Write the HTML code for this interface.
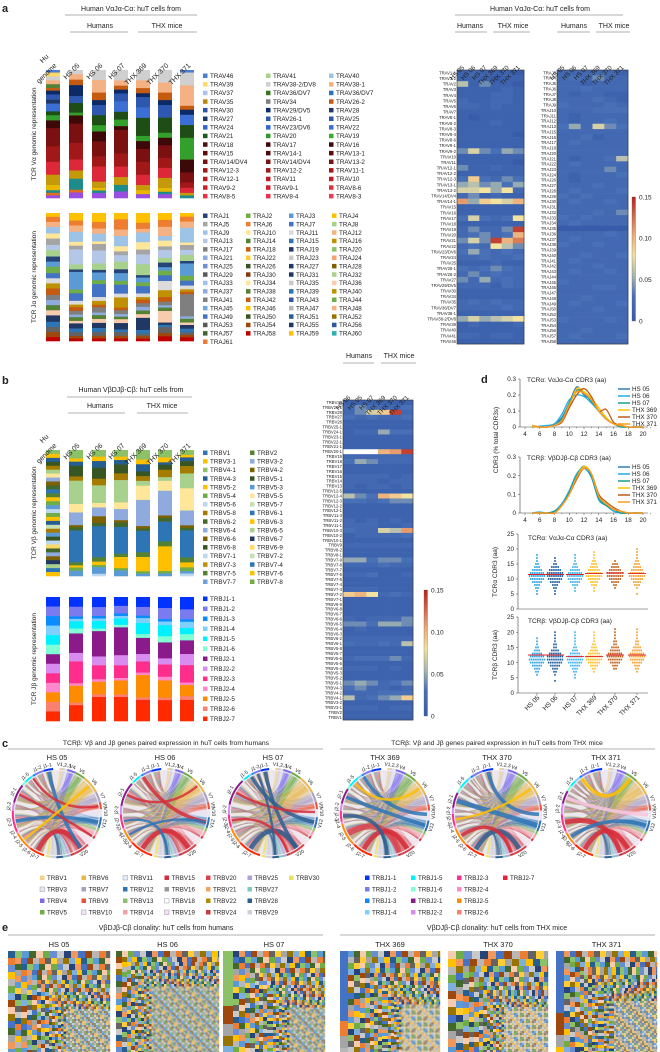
<!DOCTYPE html>
<html><head><meta charset="utf-8"><style>
body{margin:0;background:#fff;}
svg{display:block;font-family:"Liberation Sans",sans-serif;}
</style></head><body>
<svg id="fig" width="660" height="1052" viewBox="0 0 660 1052">
<g fill="#222" stroke="none">
<text x="2" y="12" font-size="11" font-weight="bold">a</text>
<text x="131" y="11" font-size="7" text-anchor="middle">Human VαJα-Cα: huT cells from</text>
<line x1="65" y1="15" x2="197" y2="15" stroke="#999" stroke-width="0.7"/>
<text x="100" y="28" font-size="7" text-anchor="middle">Humans</text>
<line x1="70" y1="32" x2="128" y2="32" stroke="#999" stroke-width="0.7"/>
<text x="167" y="28" font-size="7" text-anchor="middle">THX mice</text>
<line x1="138" y1="32" x2="197" y2="32" stroke="#999" stroke-width="0.7"/>
<text x="36" y="134" font-size="6.5" text-anchor="middle" transform="rotate(-90 36 134)">TCR Vα genomic representation</text>
<text x="36" y="277" font-size="6.5" text-anchor="middle" transform="rotate(-90 36 277)">TCR Jα genomic representation</text>
<text x="540" y="11" font-size="7" text-anchor="middle">Human VαJα-Cα: huT cells from</text>
<line x1="455" y1="15" x2="623" y2="15" stroke="#999" stroke-width="0.7"/>
<text x="470" y="28" font-size="7" text-anchor="middle">Humans</text>
<line x1="455" y1="32" x2="487" y2="32" stroke="#999" stroke-width="0.7"/>
<text x="513" y="28" font-size="7" text-anchor="middle">THX mice</text>
<line x1="493" y1="32" x2="530" y2="32" stroke="#999" stroke-width="0.7"/>
<text x="574" y="28" font-size="7" text-anchor="middle">Humans</text>
<line x1="557" y1="32" x2="590" y2="32" stroke="#999" stroke-width="0.7"/>
<text x="614" y="28" font-size="7" text-anchor="middle">THX mice</text>
<line x1="596" y1="32" x2="630" y2="32" stroke="#999" stroke-width="0.7"/>
</g>
<g fill="#222">
<text x="2" y="384" font-size="11" font-weight="bold">b</text>
<text x="131" y="392" font-size="7" text-anchor="middle">Human VβDJβ-Cβ: huT cells from</text>
<line x1="67" y1="397" x2="192" y2="397" stroke="#999" stroke-width="0.7"/>
<text x="100" y="408" font-size="7" text-anchor="middle">Humans</text>
<line x1="68" y1="413" x2="125" y2="413" stroke="#999" stroke-width="0.7"/>
<text x="162" y="408" font-size="7" text-anchor="middle">THX mice</text>
<line x1="137" y1="413" x2="188" y2="413" stroke="#999" stroke-width="0.7"/>
<text x="36" y="513" font-size="6.5" text-anchor="middle" transform="rotate(-90 36 513)">TCR Vβ genomic representation</text>
<text x="36" y="659" font-size="6.5" text-anchor="middle" transform="rotate(-90 36 659)">TCR Jβ genomic representation</text>
<text x="359" y="358" font-size="7" text-anchor="middle">Humans</text>
<line x1="343" y1="363" x2="374" y2="363" stroke="#999" stroke-width="0.7"/>
<text x="399" y="358" font-size="7" text-anchor="middle">THX mice</text>
<line x1="381" y1="363" x2="416" y2="363" stroke="#999" stroke-width="0.7"/>
</g>
<g fill="#222">
<text x="481" y="383" font-size="11" font-weight="bold">d</text>
<text x="498" y="440" font-size="6.5" text-anchor="middle" transform="rotate(-90 498 440)">CDR3 (% total CDR3s)</text>
<text x="497" y="572" font-size="6.5" text-anchor="middle" transform="rotate(-90 497 572)">TCRα CDR3 (aa)</text>
<text x="497" y="655" font-size="6.5" text-anchor="middle" transform="rotate(-90 497 655)">TCRβ CDR3 (aa)</text>
</g>
<g fill="#222">
<text x="2" y="747" font-size="11" font-weight="bold">c</text>
<text x="166" y="745" font-size="6.8" text-anchor="middle">TCRβ: Vβ and Jβ genes paired expression in huT cells from humans</text>
<line x1="8" y1="749" x2="323" y2="749" stroke="#999" stroke-width="0.7"/>
<text x="497" y="745" font-size="6.8" text-anchor="middle">TCRβ: Vβ and Jβ genes paired expression in huT cells from THX mice</text>
<line x1="340" y1="749" x2="655" y2="749" stroke="#999" stroke-width="0.7"/>
</g>
<g fill="#222">
<text x="2" y="931" font-size="11" font-weight="bold">e</text>
<text x="166" y="930" font-size="7" text-anchor="middle">VβDJβ-Cβ clonality: huT cells from humans</text>
<line x1="8" y1="935" x2="323" y2="935" stroke="#999" stroke-width="0.7"/>
<text x="497" y="930" font-size="7" text-anchor="middle">VβDJβ-Cβ clonality: huT cells from THX mice</text>
<line x1="340" y1="935" x2="655" y2="935" stroke="#999" stroke-width="0.7"/>
</g>
</svg>
<script>
const NS='http://www.w3.org/2000/svg';
const svg=document.getElementById('fig');
function mk(tag,attrs,parent){const e=document.createElementNS(NS,tag);for(const k in attrs)e.setAttribute(k,attrs[k]);(parent||svg).appendChild(e);return e;}
function label(x,y,s,size,opts,name,parent){
  const e=mk('text',Object.assign({x:x,y:y,'font-size':size,fill:'#222'},opts||{}),parent);
  e.textContent=s;
  
  
  return e;
}

/* ---------------- DATA ---------------- */
const samples=['HS 05','HS 06','HS 07','THX 369','THX 370','THX 371'];
const barSamples=['Hu genome','HS 05','HS 06','HS 07','THX 369','THX 370','THX 371'];

const travGroupColors=['#4a7fd6','#ffd966','#d0d0d0','#f4b183','#548235','#c55a11','#0b2a66','#2e58b0','#1f3864','#3c6fd6','#1e4d16','#33a02c','#3d0808','#7a1010','#a01818','#dc2838','#c49a0a','#e8b800','#1f8c8c','#e07020','#9b4fe0'];
const travHu=[2,3,3,3,3,2,3,4,3,6,3,4,6,14,12,10,8,4,2,2,2];
const travHS05=[0,0,3,4,0,4,8,5,0,0,7,2,6,14,12,8,6,0,8,2,4];
const travHS06=[0,0,8,10,0,6,4,8,0,0,8,5,8,12,8,12,5,2,2,0,4];
const travHS07=[0,0,8,4,0,3,3,6,0,8,6,5,3,18,10,8,6,0,5,0,5];
const travTHX369=[0,0,8,6,0,4,3,8,0,8,14,4,6,10,10,8,4,3,0,0,3];
const travTHX370=[0,0,10,8,0,6,4,10,0,0,12,4,6,10,8,8,8,3,2,0,3];
const travTHX371=[2,0,10,16,0,3,4,0,0,8,10,17,10,8,4,4,2,0,2,0,0];

const trajGroupColors=['#ffc000','#ed7d31','#f4b183','#9dc3e6','#ffe699','#a5a5a5','#b4c7e7','#a9d18e','#264478','#5b9bd5','#70ad47','#4472c4','#dbdbdb','#bf9000','#c55a11','#7f7f7f','#8faadc','#548235','#f8cbad','#203864','#2e75b6','#636363','#9e480e','#c00000'];
const trajHu=[3,4,4,5,4,5,4,5,4,4,5,4,4,4,5,4,4,4,4,5,4,4,4,3];
const trajHS05=[6,4,5,8,3,3,12,4,2,14,3,6,3,2,3,3,2,3,2,4,3,3,2,2];
const trajHS06=[7,5,4,6,2,5,10,5,2,6,3,10,3,3,2,4,2,3,3,4,3,3,2,2];
const trajHS07=[5,8,5,8,4,3,5,6,3,6,3,7,3,8,2,3,2,2,3,5,2,3,2,2];
const trajTHX369=[8,5,3,8,6,4,8,9,2,4,3,6,3,2,3,3,3,3,3,10,3,2,2,2];
const trajTHX370=[6,6,8,4,5,3,7,4,4,3,4,5,8,6,4,3,2,3,10,2,2,5,3,4];
const trajTHX371=[3,4,5,12,2,4,4,5,2,10,4,4,3,2,2,18,2,3,2,3,3,2,2,3];

const trbvGroupColors=['#8cc168','#ffc000','#255e91','#375623','#a67c00','#a9d18e','#ffe699','#8faadc','#7f6000','#43682b','#2e75b6','#548235','#ffc000','#70ad47','#5b9bd5','#bdd7ee',
 '#70ad47','#ffc000','#255e91','#c5e0b4','#a67c00','#5b9bd5','#375623','#bdd7ee','#ffd966','#43682b','#8faadc','#7f6000','#1f3864','#a9d18e','#2e75b6','#ffc000'];
const trbvHu=[3,3,3,3,3,3,3,3,3,3,3,3,3,3,3,3,3,3,3,3,3,3,3,3,3,3,3,3,3,3,3,3];
const trbvHS05=[8,3,4,10,4,22,8,12,2,3,30,3,2,3,5,0,0,0,0,0,0,0,0,0,0,0,0,0,0,0,0,0];
const trbvHS06=[6,4,6,10,6,16,4,8,6,3,28,4,3,2,6,2,0,0,0,0,0,0,0,0,0,0,0,0,0,0,0,0];
const trbvHS07=[6,3,4,8,6,20,6,10,2,4,24,3,10,2,5,0,0,0,0,0,0,0,0,0,0,0,0,0,0,0,0,0];
const trbvTHX369=[8,4,6,4,4,4,12,22,2,2,18,4,12,2,2,0,0,0,0,0,0,0,0,0,0,0,0,0,0,0,0,0];
const trbvTHX370=[6,4,2,4,6,3,8,20,2,3,16,4,20,2,2,0,0,0,0,0,0,0,0,0,0,0,0,0,0,0,0,0];
const trbvTHX371=[4,2,3,4,6,12,18,12,2,2,22,4,4,3,2,2,0,0,0,0,0,0,0,0,0,0,0,0,0,0,0,0];

const trbjNames=['TRBJ1-1','TRBJ1-2','TRBJ1-3','TRBJ1-4','TRBJ1-5','TRBJ1-6','TRBJ2-1','TRBJ2-2','TRBJ2-3','TRBJ2-4','TRBJ2-5','TRBJ2-6','TRBJ2-7'];
const trbjColors=['#0033ff','#7b7bf0','#0a8cff','#7fd0ff','#00f0ff','#7fffd4','#8b1a8b','#d98cf0','#ff2d8c','#ff88cc','#ff8c00','#fa8072','#ff2a00'];
const trbjHu=[8,8,8,8,8,8,8,8,8,8,8,8,8];
const trbjHS05=[8,8,2,2,6,4,16,7,18,2,14,2,13];
const trbjHS06=[8,7,2,2,6,2,20,7,11,2,10,2,19];
const trbjHS07=[7,6,2,2,5,2,22,8,10,2,11,2,19];
const trbjTHX369=[8,7,2,4,9,3,13,6,9,2,18,2,17];
const trbjTHX370=[9,9,2,3,9,5,13,5,10,3,14,2,17];
const trbjTHX371=[10,8,2,5,5,5,11,9,14,2,9,3,17];

/* heatmap data (values x 0.01) */
const travRows=['TRAV1-1','TRAV1-2','TRAV2','TRAV3','TRAV4','TRAV5','TRAV6','TRAV7','TRAV8-1','TRAV8-2','TRAV8-3','TRAV8-4','TRAV8-6','TRAV9-1','TRAV9-2','TRAV10','TRAV11','TRAV12-1','TRAV12-2','TRAV12-3','TRAV13-1','TRAV13-2','TRAV14/DV4','TRAV14-1','TRAV15','TRAV16','TRAV17','TRAV18','TRAV19','TRAV20','TRAV21','TRAV22','TRAV23/DV6','TRAV24','TRAV25','TRAV26-1','TRAV26-2','TRAV27','TRAV29/DV5','TRAV30','TRAV34','TRAV35','TRAV36/DV7','TRAV38-1','TRAV38-2/DV8','TRAV39','TRAV40','TRAV41','TRAV46'];
const travHeat=[[1,2,1,1,1,0],[1,1,1,0,1,1],[6,1,4,1,1,0],[1,1,1,1,2,1],[1,1,1,2,2,1],[2,1,1,2,2,1],[2,2,1,2,1,1],[1,1,1,1,1,1],[1,0,1,1,1,1],[1,1,1,2,1,1],[1,1,1,1,1,1],[1,1,1,1,1,0],[1,1,1,1,1,1],[1,1,1,1,1,1],[4,7,4,3,5,4],[1,1,1,1,1,1],[1,1,1,1,1,0],[4,1,1,2,1,1],[1,1,1,1,1,1],[3,9,3,2,4,3],[5,6,4,5,3,5],[7,7,8,5,8,2],[2,4,1,2,1,1],[11,5,9,8,7,10],[1,1,1,1,1,1],[1,1,1,1,1,1],[3,7,3,2,3,8],[1,1,1,1,1,1],[2,4,2,2,4,14],[2,3,4,2,3,10],[4,7,4,14,10,12],[2,3,2,8,6,4],[3,5,3,2,3,2],[2,2,3,2,2,3],[1,1,1,2,1,1],[3,2,3,4,3,2],[2,4,2,3,2,2],[4,2,5,2,3,2],[2,2,2,1,3,2],[1,1,1,1,1,1],[1,1,1,1,1,1],[2,3,2,3,2,2],[2,2,2,2,3,2],[1,1,1,1,1,1],[5,7,5,6,7,8],[1,2,1,1,1,2],[1,1,1,1,1,1],[2,2,1,2,2,1],[1,1,1,1,1,1]];
const trajRows=['TRAJ3','TRAJ4','TRAJ5','TRAJ6','TRAJ7','TRAJ8','TRAJ9','TRAJ10','TRAJ11','TRAJ12','TRAJ13','TRAJ15','TRAJ16','TRAJ17','TRAJ18','TRAJ20','TRAJ21','TRAJ22','TRAJ23','TRAJ24','TRAJ26','TRAJ27','TRAJ28','TRAJ29','TRAJ30','TRAJ31','TRAJ32','TRAJ33','TRAJ34','TRAJ35','TRAJ36','TRAJ37','TRAJ38','TRAJ39','TRAJ40','TRAJ41','TRAJ42','TRAJ43','TRAJ44','TRAJ45','TRAJ46','TRAJ47','TRAJ48','TRAJ49','TRAJ50','TRAJ52','TRAJ53','TRAJ54','TRAJ56','TRAJ57','TRAJ58'];
const trajHeat=[[2,2,2,2,2,1],[2,3,2,4,2,2],[2,2,1,2,2,2],[2,2,3,2,2,2],[2,1,2,2,1,1],[2,2,2,3,2,1],[3,2,2,2,3,2],[2,2,2,3,3,3],[2,1,2,2,2,2],[2,1,2,2,3,2],[3,5,2,7,4,3],[2,2,2,2,2,2],[2,2,3,1,2,2],[2,3,2,2,2,2],[2,2,2,2,2,2],[2,2,2,2,2,2],[2,1,2,2,3,6],[2,3,2,2,2,2],[2,2,2,2,4,2],[2,1,2,2,2,3],[2,1,2,2,2,2],[2,2,2,3,2,2],[2,3,2,2,2,3],[3,2,3,2,2,2],[2,3,2,2,3,2],[2,2,2,2,2,2],[2,2,2,3,2,4],[3,2,3,2,2,2],[2,3,2,2,2,2],[0,0,0,0,0,0],[2,2,2,2,3,2],[2,3,2,2,2,2],[3,2,2,3,2,2],[2,2,2,2,2,2],[2,2,3,2,2,3],[2,3,2,2,2,2],[2,2,2,3,2,2],[2,3,2,2,3,2],[2,2,2,2,2,2],[3,2,2,2,2,2],[2,2,2,3,3,2],[2,2,2,2,2,2],[2,2,3,2,2,2],[2,3,2,2,2,3],[2,2,2,3,2,2],[2,2,2,2,2,2],[3,2,2,2,3,2],[2,2,2,2,2,2],[2,2,3,2,2,2],[2,3,2,2,2,3],[2,2,2,2,2,2]];
const trbvRows=['TRBV30','TRBV29-1','TRBV28','TRBV27','TRBV26','TRBV25-1','TRBV24-1','TRBV23-1','TRBV22-1','TRBV21-1','TRBV20-1','TRBV19','TRBV18','TRBV17','TRBV16','TRBV15','TRBV14','TRBV13','TRBV12-5','TRBV12-4','TRBV12-3','TRBV12-2','TRBV12-1','TRBV11-3','TRBV11-2','TRBV11-1','TRBV10-3','TRBV10-2','TRBV10-1','TRBV9','TRBV8-2','TRBV8-1','TRBV7-9','TRBV7-8','TRBV7-7','TRBV7-6','TRBV7-5','TRBV7-4','TRBV7-3','TRBV7-2','TRBV7-1','TRBV6-9','TRBV6-8','TRBV6-7','TRBV6-6','TRBV6-5','TRBV6-4','TRBV6-3','TRBV6-2','TRBV6-1','TRBV5-8','TRBV5-7','TRBV5-6','TRBV5-5','TRBV5-4','TRBV5-3','TRBV5-2','TRBV5-1','TRBV4-3','TRBV4-2','TRBV4-1','TRBV3-2','TRBV3-1','TRBV2','TRBV1'];
const trbvHeat=[[1,1,1,1,1,1],[2,4,3,2,2,3],[2,4,7,9,14,2],[3,2,3,2,2,3],[1,1,1,1,1,1],[1,1,1,1,1,1],[1,2,2,5,3,3],[1,1,1,1,1,1],[1,1,1,1,1,1],[1,1,1,1,1,1],[null,null,null,10,11,14],[2,2,2,2,2,2],[3,5,4,2,2,2],[1,1,1,1,1,1],[1,1,1,1,1,1],[2,2,2,2,1,2],[2,2,2,1,2,2],[2,1,2,2,1,2],[1,1,1,1,1,1],[6,4,3,10,9,8],[3,3,2,3,4,4],[1,1,1,1,1,1],[1,1,1,1,1,1],[1,1,1,1,1,1],[2,1,2,1,2,1],[2,2,2,1,1,2],[3,2,2,7,6,11],[1,2,2,2,2,3],[1,1,1,1,1,1],[2,2,2,2,2,2],[1,1,1,1,1,1],[1,1,1,1,1,1],[5,5,3,4,4,3],[2,2,2,3,2,2],[1,1,1,1,1,1],[2,2,3,1,1,2],[1,1,1,1,1,1],[1,1,1,1,1,1],[2,2,2,1,1,1],[9,10,8,2,3,2],[1,1,1,1,1,1],[1,1,1,1,1,1],[1,1,1,1,1,1],[1,1,1,1,1,1],[2,1,2,2,2,4],[4,4,3,5,5,4],[1,2,1,1,1,1],[1,1,1,1,1,1],[2,2,2,2,2,2],[3,2,2,3,2,6],[1,1,1,1,1,1],[1,1,1,1,1,1],[2,3,3,3,4,2],[1,1,1,1,1,1],[2,2,2,1,2,1],[1,1,1,1,1,1],[1,1,1,1,1,1],[4,5,4,2,3,4],[3,4,2,2,1,2],[2,2,2,3,3,3],[6,2,3,4,5,9],[1,1,1,1,1,1],[2,2,2,1,2,2],[1,1,1,1,1,1],[1,1,1,1,1,1]];

/* CDR3 curves: lengths 5..20 */
const cdrLengths=[5,6,7,8,9,10,11,12,13,14,15,16,17,18,19,20];
const alphaHS05=[0,0,0,0.02,0.06,0.15,0.25,0.2,0.17,0.1,0.05,0.02,0.01,0,0,0];
const alphaHS06=[0,0.005,0.01,0.02,0.08,0.17,0.2,0.19,0.15,0.1,0.05,0.02,0.01,0,0,0];
const alphaHS07=[0,0,0,0.01,0.05,0.15,0.23,0.21,0.16,0.1,0.05,0.02,0,0,0,0];
const alphaTHX369=[0,0,0,0.01,0.04,0.13,0.24,0.22,0.18,0.12,0.06,0.02,0.01,0,0,0];
const alphaTHX370=[0.01,0,0,0.01,0.03,0.12,0.2,0.24,0.19,0.1,0.11,0.03,0.01,0,0,0];
const alphaTHX371=[0.01,0,0,0.01,0.04,0.14,0.22,0.21,0.17,0.1,0.05,0.02,0.01,0,0,0];
const betaHS05=[0,0,0,0.01,0.05,0.11,0.2,0.25,0.2,0.08,0.04,0.02,0,0,0,0];
const betaHS06=[0,0.005,0,0.01,0.05,0.12,0.21,0.24,0.19,0.07,0.04,0.01,0,0,0,0];
const betaHS07=[0,0,0,0.01,0.04,0.11,0.2,0.25,0.2,0.08,0.04,0.02,0,0,0,0];
const betaTHX369=[0,0,0,0,0.04,0.1,0.19,0.25,0.21,0.09,0.05,0.02,0.01,0,0,0];
const betaTHX370=[0,0,0,0,0.04,0.1,0.18,0.24,0.21,0.1,0.06,0.03,0.01,0,0,0];
const betaTHX371=[0,0,0,0,0.04,0.1,0.19,0.24,0.21,0.09,0.05,0.02,0.01,0,0,0];
const curveColors=['#2f7fc1','#1eaee8','#1a9f8f','#ffc000','#c05a1a','#ff9a1a'];

/* dot plots: counts per CDR3 length */
const alphaLens=[5,6,7,8,9,10,11,12,13,14,15,16,17,18,19,20];
const alphaCountsHS05=[1,1,2,3,5,7,8,7,5,3,2,1,1,1,0,0];
const alphaCountsHS06=[1,1,2,3,5,7,8,8,6,4,2,1,1,0,0,0];
const alphaCountsHS07=[0,1,1,3,5,7,8,7,5,3,2,1,1,1,0,0];
const alphaCountsTHX369=[0,1,1,3,4,6,8,7,6,4,3,2,1,1,1,0];
const alphaCountsTHX370=[0,0,1,2,4,6,8,8,6,4,3,1,0,0,0,0];
const alphaCountsTHX371=[1,0,1,3,4,6,8,7,6,4,3,2,1,1,1,1];
const alphaMedians=[11.5,11.5,11.5,11.8,12,11.8];
const betaLens=[4,5,6,7,8,9,10,11,12,13,14,15,16,17,18,19,20,21];
const betaCountsHS05=[0,0,1,2,3,5,7,8,7,5,3,2,1,1,1,0,0,0];
const betaCountsHS06=[1,0,1,2,3,5,7,8,8,6,4,2,2,1,1,1,1,0];
const betaCountsHS07=[0,1,1,2,3,5,7,8,7,5,3,2,1,1,1,1,1,0];
const betaCountsTHX369=[0,0,0,1,2,4,6,8,8,6,4,3,2,1,1,1,1,0];
const betaCountsTHX370=[0,0,0,0,2,3,5,7,8,7,5,4,2,2,1,1,1,1];
const betaCountsTHX371=[0,0,0,1,2,3,5,7,8,7,5,4,2,2,1,1,1,1];
const betaMedians=[12.5,12.5,12,12,12.5,12.5];
const dotColors=['#2ea3e0','#1f5f9f','#3fb0ea','#ffc020','#c0601a','#f5a030'];

/* chord diagrams */
const vNames=['V1','V2','V3','V4','V5','V6','V7','V9','V10','V11','V12','V13','V14','V15','V18','V19','V20','V24','V25','V27','V28','V29','V30'];
const vColors=['#f5d08a','#cccccc','#e0e0f0','#7b68ee','#70ad47','#e8b84a','#a9a0c0','#e8503a','#f0e0f0','#dde6f5','#2e75b6','#8cc168','#f4a0a8','#d62d3a','#f4eaea','#f8e0f0','#d9434c','#c83c3c','#b0a0d8','#7fc8c0','#2f5f8f','#d0d0dc','#f0e060'];
const vWeightsHumans=[2,2,2,6,8,14,8,5,4,2,8,3,4,2,3,3,12,3,3,3,5,5,3];
const vWeightsTHX=[2,2,3,8,10,14,8,5,6,2,9,3,4,2,3,3,12,3,3,3,6,5,3];
const chordsHS05=[[12,16,4,'#d62d3a'],[0,16,3,'#2e75b6'],[8,10,3,'#2e75b6'],[6,13,2,'#d62d3a'],[3,7,2,'#d62d3a'],[10,5,2,'#ffc000']];
const chordsHS06=[[12,16,4,'#d62d3a'],[2,10,3,'#d62d3a'],[6,5,2,'#d62d3a'],[8,20,2,'#2e75b6'],[10,10,2,'#2e75b6']];
const chordsHS07=[[12,16,4,'#2f5f8f'],[0,16,3,'#2f5f8f'],[3,10,3,'#2f5f8f'],[6,8,2,'#d62d3a'],[8,17,2,'#d62d3a'],[1,20,2,'#2f5f8f']];
const chordsTHX369=[[10,17,5,'#d9434c'],[12,16,4,'#d62d3a'],[2,8,3,'#2e75b6'],[6,10,3,'#2e75b6'],[4,5,2,'#ffc000'],[8,20,3,'#2f5f8f']];
const chordsTHX370=[[12,16,4,'#2f5f8f'],[6,10,4,'#2e75b6'],[0,8,3,'#2e75b6'],[8,5,2,'#ffc000'],[10,17,3,'#d62d3a']];
const chordsTHX371=[[12,16,4,'#d62d3a'],[8,17,4,'#d62d3a'],[6,8,3,'#f8c8e0'],[2,4,3,'#ffc000'],[10,10,3,'#2e75b6']];

/* clonality tiers (cell size per nested layer) */
const clonePalette=['#4472c4','#ed7d31','#a5a5a5','#ffc000','#5b9bd5','#70ad47','#264478','#9e480e','#636363','#997300','#255e91','#43682b','#698ed0','#f1975a','#b7b7b7','#ffcd33','#7cafdd','#8cc168','#f8cbad','#c9c9c9'];
const tiersHS05=[7,6,6,5,5,4,4,4,3,3,3,3,2.5,2.5];
const tiersHS06=[6,5,4,4,3,3,3,2.5,2.5,2.5];
const tiersHS07=[6,6,5,5,4,4,4,3,3,3,3,3,2.5,2.5,2.5];
const tiersTHX369=[6,6,5,5,4,4,4,3,3,3,3,2.5,2.5,2.5];
const tiersTHX370=[8,7,6,5,5,4,4,3,3,3,3,2.5,2.5];
const tiersTHX371=[6,5,5,4,4,4,3,3,3,3,2.5,2.5,2.5,2.5];
const topClonesHS05=[];
const topClonesHS06=[];
const topClonesHS07=[[17,55],[7,18],[2,12]];
const topClonesTHX369=[[0,70],[1,15],[2,12]];
const topClonesTHX370=[];
const topClonesTHX371=[[0,62],[7,22],[2,12]];

/* ---------------- DRAW: stacked bars ---------------- */
const barX=[46,69,92,114,136,158,180];
function stacked(xs,top,bottom,colors,series,name){
  const g=mk('g',{});
  
  
  series.forEach((hs,bi)=>{
    const tot=hs.reduce((a,b)=>a+b,0);
    let y=top;
    hs.forEach((h,i)=>{
      if(h<=0)return;
      const hh=h/tot*(bottom-top);
      const r=mk('rect',{x:xs[bi],y:y.toFixed(2),width:14,height:(hh+0.3).toFixed(2),fill:colors[i]},g);
      
      
      y+=hh;
    });
  });
}
stacked(barX,70,198,travGroupColors,[travHu,travHS05,travHS06,travHS07,travTHX369,travTHX370,travTHX371],'trav-stacked-bars');
stacked(barX,213,341,trajGroupColors,[trajHu,trajHS05,trajHS06,trajHS07,trajTHX369,trajTHX370,trajTHX371],'traj-stacked-bars');
stacked(barX,450,576,trbvGroupColors,[trbvHu,trbvHS05,trbvHS06,trbvHS07,trbvTHX369,trbvTHX370,trbvTHX371],'trbv-stacked-bars');
stacked(barX,597,721,trbjColors,[trbjHu,trbjHS05,trbjHS06,trbjHS07,trbjTHX369,trbjTHX370,trbjTHX371],'trbj-stacked-bars');

function barLabels(yEnd,name){
  barSamples.forEach((s,i)=>{
    const cx=barX[i]+9;
    if(s==='Hu genome'){
      label(cx-6,yEnd-9,'Hu',7,{'text-anchor':'end',transform:`rotate(-45 ${cx-6} ${yEnd-9})`},name);
      label(cx+2,yEnd,'genome',7,{'text-anchor':'end',transform:`rotate(-45 ${cx+2} ${yEnd})`},name);
    } else label(cx+2,yEnd,s,7,{'text-anchor':'end',transform:`rotate(-45 ${cx+2} ${yEnd})`},name);
  });
}
barLabels(66,'bar-sample-label');
barLabels(446,'bar-sample-label');

/* legends */
function legend(x0,y0,dx,dy,cols,size){
  cols.forEach((col,ci)=>{
    col.forEach((it,ri)=>{
      const x=x0+ci*dx, y=y0+ri*dy;
      const r=mk('rect',{x:x,y:y-4.5,width:4.5,height:4.5,fill:it[1],stroke:it[2]||'none','stroke-width':0.5});
      
      
      label(x+7,y,it[0],size||6.3,{},'legend-entry');
    });
  });
}
legend(203,78,63,8.6,[
 [['TRAV46','#4a7fd6'],['TRAV39','#ffd966'],['TRAV37','#a9c4eb'],['TRAV35','#b8860b'],['TRAV30','#2f55a4'],['TRAV27','#1f3864'],['TRAV24','#3366cc'],['TRAV21','#1e5a1e'],['TRAV18','#4a0f0f'],['TRAV15','#5c0a0a'],['TRAV14/DV4','#7a1010'],['TRAV12-3','#a01818'],['TRAV12-1','#b81c24'],['TRAV9-2','#d0202c'],['TRAV8-5','#e8304a']],
 [['TRAV41','#a9d18e'],['TRAV38-2/DV8','#d0d0d0'],['TRAV36/DV7','#38761d'],['TRAV34','#7f7f7f'],['TRAV29/DV5','#0b2a66'],['TRAV26-1','#2e58b0'],['TRAV23/DV6','#2f68d6'],['TRAV20','#2e9a2e'],['TRAV17','#3d0808'],['TRAV14-1','#4d0909'],['TRAV14/DV4','#7a1010'],['TRAV12-2','#a01818'],['TRAV11','#b81c24'],['TRAV9-1','#d0202c'],['TRAV8-4','#e8304a']],
 [['TRAV40','#9dc3e6'],['TRAV38-1','#f4b183'],['TRAV36/DV7','#2e75b6'],['TRAV26-2','#c55a11'],['TRAV28','#203864'],['TRAV25','#2f55a4'],['TRAV22','#3c6fd6'],['TRAV19','#33b033'],['TRAV16','#3d0808'],['TRAV13-1','#5c0a0a'],['TRAV13-2','#7a1010'],['TRAV11-1','#a01818'],['TRAV10','#c01c28'],['TRAV8-6','#e03040'],['TRAV8-3','#f03a55']]
]);
const trajPal=['#264478','#70ad47','#5b9bd5','#ffc000','#a5a5a5','#ed7d31','#4472c4','#a9d18e','#9dc3e6','#ffe699','#dbdbdb','#f4b183','#b4c7e7','#548235','#2e75b6','#bf9000','#7f7f7f','#c55a11','#203864','#8cc168','#8faadc','#ffcd33','#c9c9c9','#f8a070','#6f8fd0','#375623','#1f3864','#7f6000','#595959','#843c0c','#1f3864','#a9d18e','#9dc3e6','#ffe699','#c9c9c9','#f8cbad','#8faadc','#548235','#2e75b6','#bf9000','#7f7f7f','#c55a11','#2f55a4','#70ad47','#6fa8dc','#ffc000','#b7b7b7','#f4b183','#4472c4','#375623','#255e91','#997300','#595959','#9e480e','#1f3864','#2f55a4','#43682b','#c00000','#ffc000','#2ab0b0','#ed7d31'];
const trajCols=[[],[],[],[]];
for(let j=1;j<=61;j++){trajCols[(j-1)%4].push(['TRAJ'+j,trajPal[j-1]]);}
legend(203,218,43,8.4,trajCols);
legend(203,455,47,8.6,[
 [['TRBV1','#2e75b6'],['TRBV3-1','#ffc000'],['TRBV4-1','#8cc168'],['TRBV4-3','#255e91'],['TRBV5-2','#ffc000'],['TRBV5-4','#70ad47'],['TRBV5-6','#bdd7ee'],['TRBV5-8','#a67c00'],['TRBV6-2','#43682b'],['TRBV6-4','#8faadc'],['TRBV6-6','#7f6000'],['TRBV6-8','#375623'],['TRBV7-1','#bdd7ee'],['TRBV7-3','#c09000'],['TRBV7-5','#548235'],['TRBV7-7','#6fa0dc']],
 [['TRBV2','#548235'],['TRBV3-2','#8faadc'],['TRBV4-2','#7f6000'],['TRBV5-1','#375623'],['TRBV5-3','#5b9bd5'],['TRBV5-5','#ffe699'],['TRBV5-7','#c5e0b4'],['TRBV6-1','#2e75b6'],['TRBV6-3','#ffc000'],['TRBV6-5','#a9d18e'],['TRBV6-7','#1f3864'],['TRBV6-9','#ffd966'],['TRBV7-2','#c5e0b4'],['TRBV7-4','#2e75b6'],['TRBV7-6','#ffc000'],['TRBV7-8','#70ad47']]
]);
legend(203,601,47,10,[trbjNames.map((n,i)=>[n,trbjColors[i]])]);

/* ---------------- heatmaps ---------------- */
const cmapStops=[[0,[56,92,170]],[0.03,[72,112,182]],[0.055,[170,184,176]],[0.08,[244,226,160]],[0.105,[237,169,119]],[0.15,[180,35,30]]];
function cmap(v){
  if(v===null)return '#ffffff';
  v=Math.max(0,Math.min(0.15,v));
  for(let i=0;i<cmapStops.length-1;i++){const a=cmapStops[i],b=cmapStops[i+1];
    if(v<=b[0]){const t=(v-a[0])/(b[0]-a[0]);const c=a[1].map((x,k)=>Math.round(x+(b[1][k]-x)*t));return `rgb(${c})`;}}
  return 'rgb(180,35,30)';
}
function heatmap(x,y,w,h,rows,vals,colLabels,name){
  const g=mk('g',{});
  
  
  const rh=h/rows.length, cw=w/6;
  vals.forEach((row,ri)=>row.forEach((v,ci)=>{
    const r=mk('rect',{x:(x+ci*cw).toFixed(2),y:(y+ri*rh).toFixed(2),width:(cw+0.3).toFixed(2),height:(rh+0.3).toFixed(2),fill:cmap(v===null?null:v/100)},g);
    
    
  }));
  const f=mk('rect',{x:x,y:y,width:w,height:h,fill:'none',stroke:'#333','stroke-width':0.6},g);
  
  
  const fs=Math.min(4.2,rh*0.85);
  rows.forEach((r,ri)=>label(x-1,y+ri*rh+rh*0.8,r,fs,{'text-anchor':'end'},'heatmap-row-label',g));
  colLabels.forEach((c,ci)=>{const cx=x+ci*cw+cw/2+2;label(cx,y-2,c,6.3,{'text-anchor':'end',transform:`rotate(-45 ${cx} ${y-2})`},'heatmap-column-label',g);});
}
heatmap(457,70,67,274,travRows,travHeat,samples,'trav-heatmap');
heatmap(557,70,71,274,trajRows,trajHeat,samples,'traj-heatmap');
heatmap(343,400,70,320,trbvRows,trbvHeat,['HS 06','HS 05','HS 07','THX 369','THX 370','THX 371'],'trbv-heatmap');

const cbTicks=[0,0.05,0.10,0.15];
const cbTickLabels=['0','0.05','0.10','0.15'];
function colorbar(x,y0,y1,name){
  const id='cbg'+Math.round(x);
  const defs=mk('defs',{});
  const lg=mk('linearGradient',{id:id,x1:0,y1:1,x2:0,y2:0},defs);
  cmapStops.forEach(s=>mk('stop',{offset:(s[0]/0.15*100)+'%','stop-color':`rgb(${s[1]})`},lg));
  const r=mk('rect',{x:x,y:y0,width:3.5,height:y1-y0,fill:`url(#${id})`,stroke:'#555','stroke-width':0.3});
  
  
  cbTicks.forEach((t,i)=>{const yy=y1-(t/0.15)*(y1-y0);
    label(x+7,yy+2.3,cbTickLabels[i],6.5,{},'colorbar-tick-label');});
}
colorbar(632,197,321,'trav-colorbar');
colorbar(424,590,716,'trbv-colorbar');

/* ---------------- CDR3 curves ---------------- */
function lineChart(y0,yTop,seriesArr,title,name){
  const xs=v=>525+(v-4)*7.375, ys=v=>y0-(v/0.3)*(y0-yTop);
  const g=mk('g',{});
  
  
  const ax=mk('path',{d:`M520 ${yTop} L520 ${y0} L648 ${y0}`,fill:'none',stroke:'#444','stroke-width':0.6},g);
  
  
  [0,0.1,0.2,0.3].forEach((t,i)=>{label(516,ys(t)+2.2,['0','0.1','0.2','0.3'][i],6.3,{'text-anchor':'end'},'y-tick-label',g);
    const tk=mk('line',{x1:518,x2:520,y1:ys(t),y2:ys(t),stroke:'#444','stroke-width':0.5},g);
    
    });
  for(let v=4;v<=21;v++){const tk=mk('line',{x1:xs(v),x2:xs(v),y1:y0,y2:y0+(v%2?1.2:2),stroke:'#444','stroke-width':0.5},g);
    
    
    if(v%2===0&&v<=20)label(xs(v),y0+9,String(v),6.3,{'text-anchor':'middle'},'x-tick-label',g);}
  seriesArr.forEach((ser,si)=>{
    const pts=cdrLengths.map((l,i)=>[xs(l),ys(ser[i])]);
    let d=`M${pts[0][0]} ${pts[0][1]}`;
    for(let i=0;i<pts.length-1;i++){const p0=pts[Math.max(0,i-1)],p1=pts[i],p2=pts[i+1],p3=pts[Math.min(pts.length-1,i+2)];
      d+=` C${(p1[0]+(p2[0]-p0[0])/6).toFixed(2)} ${(p1[1]+(p2[1]-p0[1])/6).toFixed(2)} ${(p2[0]-(p3[0]-p1[0])/6).toFixed(2)} ${(p2[1]-(p3[1]-p1[1])/6).toFixed(2)} ${p2[0].toFixed(2)} ${p2[1].toFixed(2)}`;}
    const p=mk('path',{d:d,fill:'none',stroke:curveColors[si],'stroke-width':1.3},g);
    
    
  });
  label(527,yTop+3,title,6.5,{},'chart-title',g);
  samples.forEach((s,i)=>{const yy=yTop+12+i*7;
    const l=mk('line',{x1:618,x2:630,y1:yy-2,y2:yy-2,stroke:curveColors[i],'stroke-width':1.5},g);
    
    
    label(632,yy,s,6.3,{},'legend-entry',g);});
}
lineChart(427,379,[alphaHS05,alphaHS06,alphaHS07,alphaTHX369,alphaTHX370,alphaTHX371],'TCRα: VαJα-Cα CDR3 (aa)','tcra-cdr3-length-chart');
lineChart(513,457,[betaHS05,betaHS06,betaHS07,betaTHX369,betaTHX370,betaTHX371],'TCRβ: VβDJβ-Cβ CDR3 (aa)','tcrb-cdr3-length-chart');

/* ---------------- dot plots ---------------- */
const catX=[537,555,575,594,615,637];
function dotPlot(y0,yTop,lens,counts,medians,title,name,showX){
  const ys=v=>y0-(v/25)*(y0-yTop);
  const g=mk('g',{});
  
  
  const ax=mk('path',{d:`M518 ${yTop} L518 ${y0} L648 ${y0}`,fill:'none',stroke:'#444','stroke-width':0.6},g);
  
  
  [0,5,10,15,20,25].forEach(t=>{label(514,ys(t)+2.2,String(t),6.3,{'text-anchor':'end'},'y-tick-label',g);
    const tk=mk('line',{x1:516,x2:518,y1:ys(t),y2:ys(t),stroke:'#444','stroke-width':0.5},g);
    
    });
  counts.forEach((cs,si)=>{
    cs.forEach((c,li)=>{
      for(let k=0;k<c;k++){
        const xx=catX[si]+(k-(c-1)/2)*2.1-0.8;
        const r=mk('rect',{x:xx.toFixed(2),y:(ys(lens[li])-0.9).toFixed(2),width:1.6,height:1.8,fill:dotColors[si]},g);
        
        
      }
    });
    const m=mk('line',{x1:catX[si]-9,x2:catX[si]+9,y1:ys(medians[si]),y2:ys(medians[si]),stroke:'#e0202a','stroke-width':0.9},g);
    
    
  });
  label(528,yTop+6,title,6.5,{},'chart-title',g);
  if(showX) samples.forEach((s,i)=>{const tk=mk('line',{x1:catX[i],x2:catX[i],y1:y0,y2:y0+2,stroke:'#444','stroke-width':0.5},g);
    
    
    label(catX[i]+3,y0+5,s,6.5,{'text-anchor':'end',transform:`rotate(-45 ${catX[i]+3} ${y0+5})`},'x-tick-label',g);});
}
dotPlot(609,534,alphaLens,[alphaCountsHS05,alphaCountsHS06,alphaCountsHS07,alphaCountsTHX369,alphaCountsTHX370,alphaCountsTHX371],alphaMedians,'TCRα: VαJα-Cα CDR3 (aa)','tcra-cdr3-dotplot',false);
dotPlot(693,617,betaLens,[betaCountsHS05,betaCountsHS06,betaCountsHS07,betaCountsTHX369,betaCountsTHX370,betaCountsTHX371],betaMedians,'TCRβ: VβDJβ-Cβ CDR3 (aa)','tcrb-cdr3-dotplot',true);

/* ---------------- chord diagrams ---------------- */
const circX=[57,165,273,385,497,606];
const circY=813, circR=43;
function pol(cx,cy,r,a){const t=a*Math.PI/180;return [cx+r*Math.sin(t),cy-r*Math.cos(t)];}
function arcPath(cx,cy,r,a0,a1){const p0=pol(cx,cy,r,a0),p1=pol(cx,cy,r,a1);return `M${p0[0].toFixed(2)} ${p0[1].toFixed(2)} A${r} ${r} 0 ${Math.abs(a1-a0)>180?1:0} ${a1>a0?1:0} ${p1[0].toFixed(2)} ${p1[1].toFixed(2)}`;}
const jLabelShort=['j1-1','j1-2','','','j1-5','','j2-1','j2-2','j2-3','j2-4','j2-5','j2-6','j2-7'];
const vLabelShort={1:'V1,2,3',3:'V4',4:'V5',5:'V6',6:'V7',7:'V9',8:'V10',10:'V12',16:'V20'};
function chord(ci,title,jW,vW,hi){
  const cx=circX[ci],cy=circY,r=circR;
  const g=mk('g',{});
  
  
  label(cx,760,title,7.5,{'text-anchor':'middle'},'chord-title',g);
  const bg=mk('circle',{cx:cx,cy:cy,r:r,fill:'#ece8f0'},g);
  
  
  const jT=jW.reduce((a,b)=>a+b,0), vT=vW.reduce((a,b)=>a+b,0);
  const jA=[];let a=-5;jW.forEach(w=>{const s=w/jT*158;jA.push([a-s,a]);a-=s;});
  const vA=[];a=3;vW.forEach(w=>{const s=w/vT*192;vA.push([a,a+s]);a+=s;});
  jW.forEach((jw,j)=>vW.forEach((vw,v)=>{
    const aj=(jA[j][0]+jA[j][1])/2+((v/vW.length)-0.5)*(jA[j][1]-jA[j][0])*0.8;
    const av=(vA[v][0]+vA[v][1])/2+((j/jW.length)-0.5)*(vA[v][1]-vA[v][0])*0.8;
    const p0=pol(cx,cy,r-1,aj),p1=pol(cx,cy,r-1,av);
    const w=jw*vw/(jT*vT)*240;
    const p=mk('path',{d:`M${p0[0].toFixed(1)} ${p0[1].toFixed(1)} Q${cx} ${cy} ${p1[0].toFixed(1)} ${p1[1].toFixed(1)}`,fill:'none',stroke:vColors[v],'stroke-opacity':0.4,'stroke-width':Math.max(0.25,w).toFixed(2)},g);
    
    
  }));
  hi.forEach(hc=>{
    const aj=(jA[hc[0]][0]+jA[hc[0]][1])/2, av=(vA[hc[1]][0]+vA[hc[1]][1])/2;
    const p0=pol(cx,cy,r-1,aj),p1=pol(cx,cy,r-1,av);
    const p=mk('path',{d:`M${p0[0].toFixed(1)} ${p0[1].toFixed(1)} Q${cx} ${cy} ${p1[0].toFixed(1)} ${p1[1].toFixed(1)}`,fill:'none',stroke:hc[3],'stroke-opacity':0.85,'stroke-width':hc[2]*1.2},g);
    
    
  });
  jA.forEach((s,j)=>{const p=mk('path',{d:arcPath(cx,cy,r+1.2,s[0],s[1]),fill:'none',stroke:trbjColors[j],'stroke-width':2},g);
    
    
    if(jLabelShort[j]){const m=(s[0]+s[1])/2,q=pol(cx,cy,r+5.5,m);const rot=Math.abs(m)<=90?m:m+180;
      label(q[0],q[1]+1.5,jLabelShort[j],5,{'text-anchor':'middle',transform:`rotate(${rot.toFixed(1)} ${q[0].toFixed(1)} ${q[1].toFixed(1)})`},'j-gene-label',g);}});
  vA.forEach((s,v)=>{const p=mk('path',{d:arcPath(cx,cy,r+1.2,s[0],s[1]),fill:'none',stroke:vColors[v],'stroke-width':2},g);
    
    
    if(vLabelShort[v]){const m=(s[0]+s[1])/2,q=pol(cx,cy,r+5.5,m);
      const rr=m<=90?m:(m<=270?m-180:m);
      label(q[0],q[1]+1.5,vLabelShort[v],5,{'text-anchor':'middle',transform:`rotate(${rr.toFixed(1)} ${q[0].toFixed(1)} ${q[1].toFixed(1)})`},'v-gene-label',g);}});
}
chord(0,'HS 05',trbjHS05,vWeightsHumans,chordsHS05);
chord(1,'HS 06',trbjHS06,vWeightsHumans,chordsHS06);
chord(2,'HS 07',trbjHS07,vWeightsHumans,chordsHS07);
chord(3,'THX 369',trbjTHX369,vWeightsTHX,chordsTHX369);
chord(4,'THX 370',trbjTHX370,vWeightsTHX,chordsTHX370);
chord(5,'THX 371',trbjTHX371,vWeightsTHX,chordsTHX371);

/* chord legends */
const cLegVH=[
 [['TRBV1','#f5d08a'],['TRBV3','#e8e8f4','#99a'],['TRBV4','#7b68ee'],['TRBV5','#70ad47']],
 [['TRBV6','#e8b84a'],['TRBV7','#a9a0c0'],['TRBV9','#e8503a'],['TRBV10','#f4e4f4','#99a']],
 [['TRBV11','#e4ecf8','#99a'],['TRBV12','#2e75b6'],['TRBV13','#8cc168'],['TRBV14','#f4a0a8']],
 [['TRBV15','#d62d3a'],['TRBV16','#999999'],['TRBV18','#ffffff','#99a'],['TRBV19','#f8e0f0','#99a']],
 [['TRBV20','#d9434c'],['TRBV21','#f4a460'],['TRBV22','#b08c00'],['TRBV24','#c83c3c']],
 [['TRBV25','#b0a0d8'],['TRBV27','#7fc8c0'],['TRBV28','#2f5f8f'],['TRBV29','#d0d0dc']],
 [['TRBV30','#f0e060']]];
legend(40,880,41.5,11.5,cLegVH,6.2);
legend(365,880,46,11.5,[
 [['TRBJ1-1','#0033ff'],['TRBJ1-2','#7b7bf0'],['TRBJ1-3','#0a8cff'],['TRBJ1-4','#7fd0ff']],
 [['TRBJ1-5','#00f0ff'],['TRBJ1-6','#7fffd4'],['TRBJ2-1','#8b1a8b'],['TRBJ2-2','#d98cf0']],
 [['TRBJ2-3','#ff2d8c'],['TRBJ2-4','#ff88cc'],['TRBJ2-5','#ff8c00'],['TRBJ2-6','#fa8072']],
 [['TRBJ2-7','#e8203a']]],6.2);

/* ---------------- clonality mosaics ---------------- */
const finePalette=['#c9b98f','#a5a5a5','#7cafdd','#d8c07a','#8a9a7a','#b7b7b7','#e0cfa8','#6f8fb8','#9e8060','#c8d0d8','#f1c27a','#8cb070'];
function mosaic(px,py,W,H,top,firstW,tiers,seed,title,name){
  const g=mk('g',{});
  
  
  label(px+W/2,947,title,7.5,{'text-anchor':'middle'},'mosaic-title',g);
  let k=seed;
  function cell(x,y,w,h,c){const r=mk('rect',{x:x.toFixed(2),y:y.toFixed(2),width:(w+0.2).toFixed(2),height:(h+0.2).toFixed(2),fill:c},g);
    
    }
  let rx=px,ry=py,rw=W,rh=H;
  if(top.length){let yy=py;top.forEach(c=>{cell(rx,yy,firstW,c[1],clonePalette[c[0]]);yy+=c[1];});
    while(yy<py+H-0.01){const hh=Math.min(firstW,py+H-yy);cell(rx,yy,firstW,hh,clonePalette[(k++*7)%20]);yy+=hh;}
    rx+=firstW;rw-=firstW;}
  tiers.forEach(s=>{
    for(let xx=rx;xx<rx+rw-0.01;xx+=s)cell(xx,ry,Math.min(s,rx+rw-xx),s,clonePalette[(k++*7+3)%20]);
    for(let yy=ry+s;yy<ry+rh-0.01;yy+=s)cell(rx,yy,s,Math.min(s,ry+rh-yy),clonePalette[(k++*11+5)%20]);
    rx+=s;ry+=s;rw-=s;rh-=s;});
  const f=2;let i=0;
  for(let yy=ry;yy<ry+rh-0.01;yy+=f){let j=0;for(let xx=rx;xx<rx+rw-0.01;xx+=f){
    cell(xx,yy,Math.min(f,rx+rw-xx),Math.min(f,ry+rh-yy),finePalette[(i*5+j*7+((i*j)%3)+seed)%12]);j++;}i++;}
}
mosaic(8,951,102,101,topClonesHS05,0,tiersHS05,1,'HS 05','clonality-hs05');
mosaic(116,951,103,101,topClonesHS06,0,tiersHS06,4,'HS 06','clonality-hs06');
mosaic(223,951,102,101,topClonesHS07,10,tiersHS07,7,'HS 07','clonality-hs07');
mosaic(340,951,100,101,topClonesTHX369,8,tiersTHX369,2,'THX 369','clonality-thx369');
mosaic(448,951,100,101,topClonesTHX370,0,tiersTHX370,5,'THX 370','clonality-thx370');
mosaic(556,951,101,101,topClonesTHX371,8,tiersTHX371,9,'THX 371','clonality-thx371');
</script>
</body></html>
